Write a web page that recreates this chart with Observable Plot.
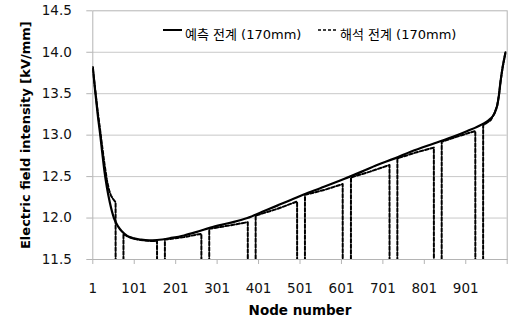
<!DOCTYPE html>
<html>
<head>
<meta charset="utf-8">
<script src="https://cdn.jsdelivr.net/npm/d3@7"></script>
<script src="https://cdn.jsdelivr.net/npm/@observablehq/plot@0.6"></script>
<style>
  html, body { margin: 0; padding: 0; background: #fff; }
  #wrap { position: relative; width: 510px; height: 325px; }
  .legend { position: absolute; top: 24px; font-family: "DejaVu Sans", "Noto Sans CJK KR", sans-serif; font-size: 13px; color: #000; white-space: nowrap; display: flex; align-items: center; }
  .legend svg { margin-right: 2px; }
</style>
</head>
<body>
<div id="wrap"></div>
<script>
// Solid series: 예측 전계 (170mm)
const solidNodes  = [1, 7, 13, 19, 24, 29, 35, 42, 52, 62, 71, 84, 100, 116, 135, 156, 190, 221, 250, 285, 330, 374, 410, 446, 480, 510, 550, 607, 650, 687, 730, 768, 824, 870, 905, 940, 961, 970, 977, 981, 985, 990, 997];
const solidValues = [13.82, 13.52, 13.24, 13.0, 12.78, 12.57, 12.37, 12.19, 12.0, 11.90, 11.84, 11.785, 11.755, 11.74, 11.73, 11.735, 11.76, 11.79, 11.83, 11.885, 11.94, 12.0, 12.075, 12.15, 12.22, 12.285, 12.36, 12.47, 12.56, 12.64, 12.72, 12.80, 12.90, 12.98, 13.05, 13.13, 13.2, 13.26, 13.36, 13.48, 13.65, 13.82, 14.0];

// Dashed series: 해석 전계 (170mm) — zero values at gap nodes
const dashNodes  = [1, 7, 13, 19, 24, 29, 35, 40, 45, 50, 56, 57, 74,
  75, 84, 100, 116, 135, 156, 157, 174,
  175, 221, 263, 264, 281,
  282, 330, 375, 376, 393,
  394, 446, 494, 495, 512,
  513, 560, 604, 605, 623,
  624, 670, 717, 718, 735,
  736, 780, 824, 825, 842,
  843, 885, 924, 925, 942,
  943, 961, 970, 977, 981, 985, 990, 997];
const dashValues = [13.80, 13.54, 13.28, 13.05, 12.85, 12.66, 12.46, 12.34, 12.27, 12.23, 12.19, 0, 0,
  11.81, 11.78, 11.75, 11.735, 11.725, 11.72, 0, 0,
  11.74, 11.77, 11.81, 0, 0,
  11.87, 11.91, 11.95, 0, 0,
  12.03, 12.11, 12.20, 0, 0,
  12.28, 12.34, 12.41, 0, 0,
  12.49, 12.56, 12.64, 0, 0,
  12.72, 12.79, 12.85, 0, 0,
  12.92, 12.99, 13.05, 0, 0,
  13.12, 13.18, 13.26, 13.36, 13.48, 13.65, 13.82, 14.0];

const xTicks = [1, 101, 201, 301, 401, 501, 601, 701, 801, 901, 1001];
const yTicks = [11.5, 12.0, 12.5, 13.0, 13.5, 14.0, 14.5];
const gridValues = [12.0, 12.5, 13.0, 13.5, 14.0];
const legendLabels = ["예측 전계 (170mm)", "해석 전계 (170mm)"];
const xTitle = "Node number";
const yTitle = "Electric field intensity [kV/mm]";

const solid = solidNodes.map((n, i) => ({node: n, value: solidValues[i]}));
const dashed = dashNodes.map((n, i) => ({node: n, value: dashValues[i]}));

const gray = "#b4b4b4";

const chart = Plot.plot({
  width: 510,
  height: 325,
  marginLeft: 92.3,
  marginRight: 3.3,
  marginTop: 10.3,
  marginBottom: 66,
  style: { fontFamily: "DejaVu Sans, sans-serif", fontSize: "13.5px", color: "#000", background: "#fff" },
  x: { domain: [1, 1001] },
  y: { domain: [11.5, 14.5] },
  marks: [
    Plot.ruleY(gridValues, { stroke: "#c8c8c8", strokeWidth: 1 }),
    Plot.frame({ stroke: gray, strokeWidth: 1 }),
    Plot.axisY(yTicks, { tickSize: 6, tickPadding: 15, tickFormat: d => d.toFixed(1), stroke: gray, fill: "#111", label: null }),
    Plot.axisX(xTicks, { tickSize: 5, tickPadding: 19, tickFormat: d => d === 1001 ? "" : String(d), stroke: gray, fill: "#111", label: null }),
    Plot.line(dashed, { x: "node", y: "value", stroke: "#000", strokeWidth: 2, strokeDasharray: "3.5,2", clip: true }),
    Plot.line(solid, { x: "node", y: "value", stroke: "#000", strokeWidth: 2.2, clip: true, curve: "monotone-x" }),
    Plot.text([xTitle], { frameAnchor: "bottom", dy: 55, fontWeight: "bold", fontSize: 13.5, fill: "#000" }),
    Plot.text([yTitle], { frameAnchor: "left", textAnchor: "middle", lineAnchor: "middle", dx: -67, rotate: -90, fontWeight: "bold", fontSize: 13, fill: "#000" })
  ]
});

const wrap = document.getElementById("wrap");
wrap.appendChild(chart);

function legendItem(left, label, dash) {
  const d = document.createElement("div");
  d.className = "legend";
  d.style.left = left + "px";
  d.innerHTML = `<svg width="20" height="18"><line x1="0" x2="19" y1="5" y2="5" stroke="#000" stroke-width="${dash ? 1.5 : 2}" ${dash ? 'stroke-dasharray="3,2"' : ''}/></svg><span>${label}</span>`;
  wrap.appendChild(d);
}
legendItem(163, legendLabels[0], false);
legendItem(318, legendLabels[1], true);
</script>
</body>
</html>
